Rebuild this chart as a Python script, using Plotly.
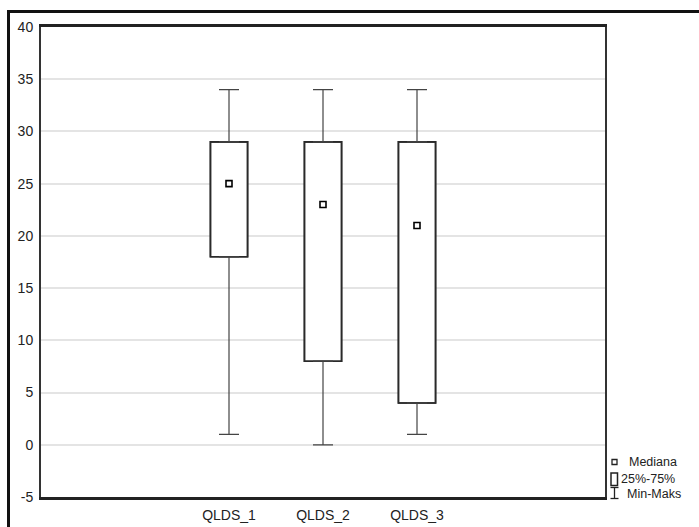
import plotly.graph_objects as go

categories = ["QLDS_1", "QLDS_2", "QLDS_3"]
minimum = [1, 0, 1]
q1 = [18, 8, 4]
median = [25, 23, 21]
q3 = [29, 29, 29]
maximum = [34, 34, 34]
y_ticks = [-5, 0, 5, 10, 15, 20, 25, 30, 35, 40]
y_tick_labels = ["-5", "0", "5", "10", "15", "20", "25", "30", "35", "40"]
legend_labels = ["Mediana", "25%-75%", "Min-Maks"]

W, H = 699, 527
L, T, R, B = 41, 27, 605, 497
pw, ph = R - L, B - T


def px(x):
    return (x - L) / pw


def py(y):
    return (B - y) / ph


FONT = "Liberation Sans, Arial, sans-serif"
DARK = "#2a2a2a"

fig = go.Figure()

# boxes (25%-75%)
fig.add_trace(go.Bar(
    x=categories,
    y=[b - a for a, b in zip(q1, q3)],
    base=q1,
    width=0.395,
    marker=dict(color="white", line=dict(color=DARK, width=1.6)),
    showlegend=False,
    hoverinfo="skip",
))

# upper whiskers
fig.add_trace(go.Scatter(
    x=categories, y=q3, mode="markers",
    marker=dict(color="rgba(0,0,0,0)", size=1),
    error_y=dict(type="data", symmetric=False,
                 array=[m - q for m, q in zip(maximum, q3)],
                 arrayminus=[0, 0, 0],
                 width=10, thickness=1.2, color="#444"),
    showlegend=False, hoverinfo="skip",
))
# lower whiskers
fig.add_trace(go.Scatter(
    x=categories, y=q1, mode="markers",
    marker=dict(color="rgba(0,0,0,0)", size=1),
    error_y=dict(type="data", symmetric=False,
                 array=[0, 0, 0],
                 arrayminus=[q - m for q, m in zip(q1, minimum)],
                 width=10, thickness=1.2, color="#444"),
    showlegend=False, hoverinfo="skip",
))
# re-draw box outlines on top of whisker caps
fig.add_trace(go.Bar(
    x=categories,
    y=[b - a for a, b in zip(q1, q3)],
    base=q1,
    width=0.395,
    marker=dict(color="rgba(0,0,0,0)", line=dict(color=DARK, width=1.6)),
    showlegend=False,
    hoverinfo="skip",
))
# medians
fig.add_trace(go.Scatter(
    x=categories, y=median, mode="markers",
    marker=dict(symbol="square-open", size=6, color="black",
                line=dict(color="black", width=1.6)),
    showlegend=False, hoverinfo="skip",
))

shapes = []
# outer frame
shapes.append(dict(type="rect", xref="paper", yref="paper",
                   x0=px(8.5), x1=px(760), y0=py(11.5), y1=py(600),
                   line=dict(color="#111", width=3)))
# legend symbols
shapes.append(dict(type="rect", xref="paper", yref="paper",
                   x0=px(612), x1=px(617), y0=py(459.5), y1=py(464.5),
                   line=dict(color="#222", width=1.3)))
shapes.append(dict(type="rect", xref="paper", yref="paper",
                   x0=px(611), x1=px(617.5), y0=py(473), y1=py(485.5),
                   line=dict(color="#222", width=1.5)))
shapes.append(dict(type="line", xref="paper", yref="paper",
                   x0=px(614.5), x1=px(614.5), y0=py(487.5), y1=py(498.5),
                   line=dict(color="#222", width=1.3)))
shapes.append(dict(type="line", xref="paper", yref="paper",
                   x0=px(610.5), x1=px(618.5), y0=py(487.5), y1=py(487.5),
                   line=dict(color="#222", width=1.3)))
shapes.append(dict(type="line", xref="paper", yref="paper",
                   x0=px(610.5), x1=px(618.5), y0=py(498.5), y1=py(498.5),
                   line=dict(color="#222", width=1.3)))

annotations = []
for label, x0, yc in zip(legend_labels, [627, 619, 625], [462, 479, 494]):
    annotations.append(dict(text=label, xref="paper", yref="paper",
                            x=px(x0), y=py(yc), xanchor="left", yanchor="middle",
                            showarrow=False,
                            font=dict(family=FONT, size=12.5, color="#222")))

fig.update_layout(
    width=W, height=H,
    margin=dict(l=L, r=W - R, t=T, b=H - B, autoexpand=False),
    paper_bgcolor="white", plot_bgcolor="white",
    font=dict(family=FONT, size=13, color="#222"),
    barmode="overlay",
    shapes=shapes,
    annotations=annotations,
    xaxis=dict(
        type="category", categoryorder="array", categoryarray=categories,
        range=[-2, 4], showgrid=False, zeroline=False, automargin=False,
        showline=True, linecolor="#222", linewidth=2.5, mirror=True,
        ticks="outside", ticklen=3, tickcolor="rgba(0,0,0,0)",
        tickfont=dict(family=FONT, size=14, color="#222"),
    ),
    yaxis=dict(
        range=[-5, 40], tickvals=y_ticks, ticktext=y_tick_labels,
        automargin=False,
        showgrid=True, gridcolor="#e4e4e4", gridwidth=1.5, zeroline=False,
        showline=True, linecolor="#333", linewidth=2, mirror=True,
        ticks="outside", ticklen=3, tickcolor="rgba(0,0,0,0)",
        tickfont=dict(family=FONT, size=14, color="#222"),
    ),
)

fig.write_html("out.html")
